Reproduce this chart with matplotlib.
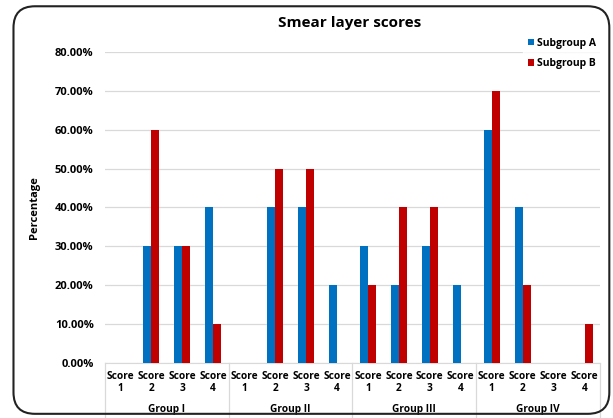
import matplotlib.pyplot as plt
import numpy as np
from matplotlib.patches import FancyBboxPatch
import matplotlib.transforms as mtransforms

plt.rcParams['font.family'] = ['Open Sans', 'DejaVu Sans']

groups = ['Group I', 'Group II', 'Group III', 'Group IV']
scores = ['Score\n1', 'Score\n2', 'Score\n3', 'Score\n4']
sub_a = [0, 30, 30, 40, 0, 40, 40, 20, 30, 20, 30, 20, 60, 40, 0, 0]
sub_b = [0, 60, 30, 10, 0, 50, 50, 0, 20, 40, 40, 0, 70, 20, 0, 10]
yticks = [0, 10, 20, 30, 40, 50, 60, 70, 80]

fig = plt.figure(figsize=(6.13, 4.18), dpi=100)
ax = fig.add_axes([0.171, 0.1316, 0.808, 0.744])

x = np.arange(len(sub_a))
w = 0.26
ax.bar(x - w / 2, sub_a, w, color='#0070C0', label='Subgroup A', zorder=3)
ax.bar(x + w / 2, sub_b, w, color='#C00000', label='Subgroup B', zorder=3)

ax.set_xlim(-0.5, len(sub_a) - 0.5)
ax.set_ylim(0, 80)
ax.set_yticks(yticks)
ax.set_yticklabels(['%.2f%%' % v for v in yticks], fontsize=8, fontweight='bold')
ax.tick_params(axis='y', length=0, pad=8)
ax.set_xticks([])
ax.grid(axis='y', color='#D9D9D9', linewidth=0.9, zorder=0)
for s in ['top', 'right', 'left']:
    ax.spines[s].set_visible(False)
ax.spines['bottom'].set_color('#D9D9D9')

trans = mtransforms.blended_transform_factory(ax.transData, ax.transAxes)
for i in range(len(sub_a)):
    ax.text(i, -0.064, scores[i % 4], transform=trans, ha='center', va='center',
            fontsize=7.3, fontweight='bold', linespacing=1.1)
for g, name in enumerate(groups):
    ax.text(g * 4 + 1.5, -0.148, name, transform=trans, ha='center', va='center',
            fontsize=7.3, fontweight='bold')
for g in range(len(groups) + 1):
    ax.plot([g * 4 - 0.5, g * 4 - 0.5], [0, -0.18], transform=trans, color='#D9D9D9',
            linewidth=0.9, clip_on=False)

ax.set_ylabel('Percentage', fontsize=8, fontweight='bold')
ax.yaxis.set_label_coords(-0.13, 0.5)
fig.text(0.571, 0.945, 'Smear layer scores', ha='center', va='center',
         fontsize=11, fontweight='bold')

leg = ax.legend(loc='upper right', bbox_to_anchor=(1.0, 1.06), frameon=True,
                fontsize=7.5, handlelength=0.6, handleheight=0.6, handletextpad=0.3,
                labelspacing=0.9, borderaxespad=0)
leg.get_frame().set_edgecolor('white')
leg.get_frame().set_facecolor('white')
for t in leg.get_texts():
    t.set_fontweight('bold')

border = FancyBboxPatch((0.022, 0.01), 0.972, 0.975, boxstyle='round,pad=0,rounding_size=0.035',
                        transform=fig.transFigure, fill=False, edgecolor='#222222',
                        linewidth=1.5, mutation_aspect=613 / 418)
fig.patches.append(border)

fig.savefig('out.png', dpi=100)
